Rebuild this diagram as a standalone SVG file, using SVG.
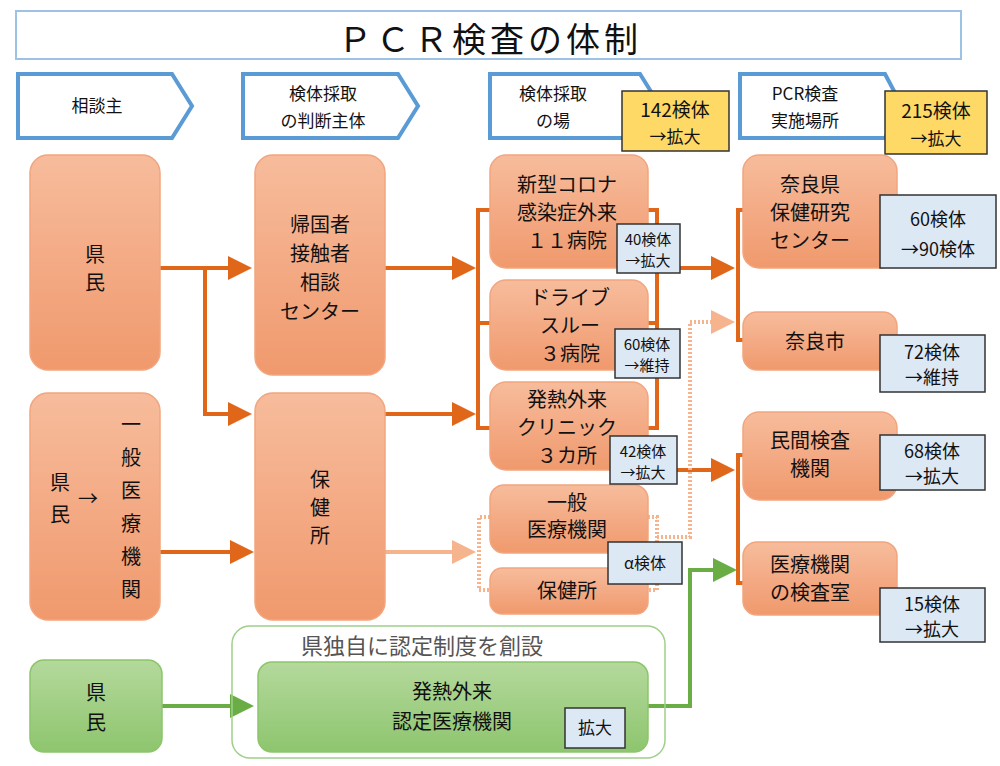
<svg xmlns="http://www.w3.org/2000/svg" width="1000" height="766" viewBox="0 0 1000 766">
<style>
text{font-family:"Noto Sans CJK JP","Noto Sans",sans-serif;fill:#111;text-anchor:middle}
.n{fill:url(#og);stroke:#f2a57e;stroke-width:1.5}
.g{fill:url(#gg);stroke:#8cc56c;stroke-width:1.5}
.hd{fill:#fff;stroke:#5b9bd5;stroke-width:4}
.bl{fill:#dde8f5;stroke:#333;stroke-width:1.5}
.ye{fill:#ffd966;stroke:#333;stroke-width:1.5}
.t{font-size:20px}
.s{font-size:15px}
.c{fill:none;stroke:#e0661a;stroke-width:4}
.cl{fill:none;stroke:#f6b48e;stroke-width:4}
.cd{fill:none;stroke:#f6b48e;stroke-width:4;stroke-dasharray:2 2}
.cg{fill:none;stroke:#6aad45;stroke-width:4}
</style>
<defs>
<linearGradient id="og" x1="0" y1="0" x2="0" y2="1"><stop offset="0" stop-color="#f7bc9c"/><stop offset="1" stop-color="#f0996d"/></linearGradient>
<linearGradient id="gg" x1="0" y1="0" x2="0" y2="1"><stop offset="0" stop-color="#b4d99c"/><stop offset="1" stop-color="#8ec56e"/></linearGradient>
<marker id="ao" markerWidth="6" markerHeight="6" refX="5" refY="3" orient="auto" markerUnits="strokeWidth"><path d="M0,0L6,3L0,6z" fill="#e0661a"/></marker>
<marker id="al" markerWidth="6" markerHeight="6" refX="5" refY="3" orient="auto" markerUnits="strokeWidth"><path d="M0,0L6,3L0,6z" fill="#f6b48e"/></marker>
<marker id="ag" markerWidth="6" markerHeight="6" refX="5" refY="3" orient="auto" markerUnits="strokeWidth"><path d="M0,0L6,3L0,6z" fill="#6aad45"/></marker>
</defs>
<rect x="16" y="11" width="945" height="48" fill="#fff" stroke="#9cc3e6" stroke-width="2"/>
<text x="490" y="52" style="font-size:34px" letter-spacing="4">ＰＣＲ検査の体制</text>

<g id="h1"><path class="hd" d="M18,74H172L192,106L172,138H18z"/><text x="97" y="112" style="font-size:17px">相談主</text></g>
<g id="h2"><path class="hd" d="M243,74H398L418,106L398,138H243z"/><text x="323" y="100" style="font-size:17px">検体採取</text><text x="323" y="127" style="font-size:17px">の判断主体</text></g>
<g id="h3"><path class="hd" d="M490,74H640L660,106L640,138H490z"/><text x="553" y="100" style="font-size:17px">検体採取</text><text x="553" y="127" style="font-size:17px">の場</text></g>
<g id="h4"><path class="hd" d="M740,74H885L902,106L885,138H740z"/><text x="805" y="100" style="font-size:17px">PCR検査</text><text x="805" y="127" style="font-size:17px">実施場所</text></g>
<g id="y1"><rect class="ye" x="622" y="91" width="107" height="60"/><text x="675" y="117" style="font-size:19px">142検体</text><text x="675" y="143" style="font-size:17px">→拡大</text></g>
<g id="y2"><rect class="ye" x="885" y="91" width="102" height="63"/><text x="936" y="118" style="font-size:19px">215検体</text><text x="936" y="145" style="font-size:17px">→拡大</text></g>

<g id="connectors">
<path class="c" d="M160,268H248" marker-end="url(#ao)"/>
<path class="c" d="M205,268V414H248" marker-end="url(#ao)"/>
<path class="c" d="M160,552H250" marker-end="url(#ao)"/>
<path class="c" d="M385,268H472" marker-end="url(#ao)"/>
<path class="c" d="M385,414H472" marker-end="url(#ao)"/>
<path class="cl" d="M385,552H472" marker-end="url(#al)"/>
<path class="c" d="M490,210H478V428H490M478,323H490"/>
<path class="cd" d="M490,517H479V590H490"/>
<path class="c" d="M648,210H657V428H648M648,323H657"/>
<path class="c" d="M680,268H731" marker-end="url(#ao)"/>
<path class="c" d="M677,470H731" marker-end="url(#ao)"/>
<path class="cd" d="M648,517H657V590H648M657,537H690V322H731"/>
<path class="cl" d="M725,322H731" marker-end="url(#al)"/>
<path class="c" d="M743,210H738V340H743"/>
<path class="c" d="M743,455H738V583H743"/>
<path class="cg" d="M162,706H250" marker-end="url(#ag)"/>
<path class="cg" d="M648,706H690V570H733" marker-end="url(#ag)"/>
</g>

<g id="n1"><rect class="n" x="30" y="155" width="130" height="215" rx="18"/><text class="t" x="95" y="262">県</text><text class="t" x="95" y="290">民</text></g>
<g id="n2"><rect class="n" x="30" y="393" width="130" height="227" rx="18"/>
<text class="t" x="60" y="490">県</text><text class="t" x="60" y="522">民</text><text class="t" x="88" y="506">→</text>
<text class="t" x="131" y="432">一</text><text class="t" x="131" y="465">般</text><text class="t" x="131" y="498">医</text><text class="t" x="131" y="531">療</text><text class="t" x="131" y="564">機</text><text class="t" x="131" y="597">関</text></g>
<g id="n3"><rect class="g" x="30" y="660" width="132" height="92" rx="14"/><text class="t" x="96" y="700">県</text><text class="t" x="96" y="730">民</text></g>
<g id="n4"><rect class="n" x="255" y="155" width="130" height="220" rx="18"/><text class="t" x="320" y="232">帰国者</text><text class="t" x="320" y="261">接触者</text><text class="t" x="320" y="290">相談</text><text class="t" x="320" y="319">センター</text></g>
<g id="n5"><rect class="n" x="255" y="393" width="130" height="227" rx="18"/><text class="t" x="320" y="487">保</text><text class="t" x="320" y="515">健</text><text class="t" x="320" y="543">所</text></g>
<g id="grp"><rect x="232" y="626" width="433" height="132" rx="18" fill="none" stroke="#9fd08a" stroke-width="1.5"/><text x="422" y="654" style="font-size:22px;fill:#555">県独自に認定制度を創設</text></g>
<g id="n6"><rect class="g" x="258" y="662" width="390" height="90" rx="14"/><text class="t" x="452" y="699">発熱外来</text><text class="t" x="452" y="729">認定医療機関</text></g>
<g id="b0"><rect class="bl" x="565" y="708" width="60" height="40"/><text x="595" y="734" style="font-size:17px">拡大</text></g>

<g id="n7"><rect class="n" x="490" y="155" width="158" height="113" rx="16"/><text class="t" x="567" y="192">新型コロナ</text><text class="t" x="567" y="220">感染症外来</text><text class="t" x="567" y="248">１１病院</text></g>
<g id="n8"><rect class="n" x="490" y="280" width="158" height="90" rx="16"/><text class="t" x="570" y="305">ドライブ</text><text class="t" x="570" y="333">スルー</text><text class="t" x="570" y="361">３病院</text></g>
<g id="n9"><rect class="n" x="490" y="382" width="158" height="88" rx="16"/><text class="t" x="567" y="407">発熱外来</text><text class="t" x="567" y="435">クリニック</text><text class="t" x="567" y="463">３カ所</text></g>
<g id="n10"><rect class="n" x="490" y="485" width="158" height="68" rx="14"/><text class="t" x="567" y="510">一般</text><text class="t" x="567" y="537">医療機関</text></g>
<g id="n11"><rect class="n" x="490" y="568" width="158" height="46" rx="12"/><text class="t" x="567" y="598">保健所</text></g>
<g id="b1"><rect class="bl" x="617" y="224" width="63" height="49"/><text class="s" x="648" y="245">40検体</text><text class="s" x="648" y="266">→拡大</text></g>
<g id="b2"><rect class="bl" x="615" y="329" width="65" height="49"/><text class="s" x="647" y="350">60検体</text><text class="s" x="647" y="371">→維持</text></g>
<g id="b3"><rect class="bl" x="610" y="436" width="67" height="48"/><text class="s" x="643" y="457">42検体</text><text class="s" x="643" y="478">→拡大</text></g>
<g id="b4"><rect class="bl" x="608" y="542" width="74" height="42"/><text class="s" x="645" y="569" style="font-size:16px">α検体</text></g>

<g id="n12"><rect class="n" x="743" y="155" width="154" height="113" rx="16"/><text class="t" x="810" y="192">奈良県</text><text class="t" x="810" y="220">保健研究</text><text class="t" x="810" y="248">センター</text></g>
<g id="n13"><rect class="n" x="743" y="312" width="154" height="58" rx="14"/><text class="t" x="815" y="349">奈良市</text></g>
<g id="n14"><rect class="n" x="743" y="412" width="154" height="88" rx="16"/><text class="t" x="810" y="448">民間検査</text><text class="t" x="810" y="476">機関</text></g>
<g id="n15"><rect class="n" x="743" y="542" width="154" height="73" rx="14"/><text class="t" x="810" y="572">医療機関</text><text class="t" x="810" y="600">の検査室</text></g>
<g id="b5"><rect class="bl" x="880" y="195" width="116" height="73"/><text x="938" y="226" style="font-size:18px">60検体</text><text x="938" y="256" style="font-size:18px">→90検体</text></g>
<g id="b6"><rect class="bl" x="880" y="335" width="105" height="57"/><text x="932" y="359" style="font-size:18px">72検体</text><text x="932" y="384" style="font-size:18px">→維持</text></g>
<g id="b7"><rect class="bl" x="880" y="435" width="105" height="55"/><text x="932" y="458" style="font-size:18px">68検体</text><text x="932" y="483" style="font-size:18px">→拡大</text></g>
<g id="b8"><rect class="bl" x="880" y="588" width="105" height="54"/><text x="932" y="611" style="font-size:18px">15検体</text><text x="932" y="636" style="font-size:18px">→拡大</text></g>
</svg>
